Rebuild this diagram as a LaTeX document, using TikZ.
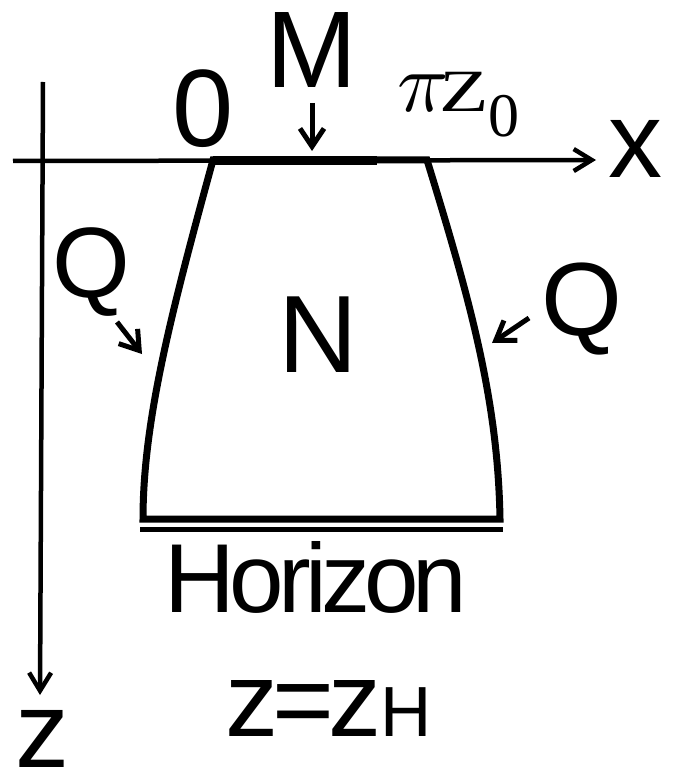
\documentclass[tikz,border=0pt]{standalone}
\usepackage{fontspec}
\usepackage{graphicx}
\setmainfont{Liberation Sans}
\newfontfamily\tightsans[LetterSpace=-6]{Liberation Sans}
\newfontfamily\serifR{Liberation Serif}
\usetikzlibrary{arrows.meta}
\newcommand{\fsz}[1]{\fontsize{#1}{#1}\selectfont}
\begin{document}
\begin{tikzpicture}[x=1pt,y=-1pt,
  lbl/.style={inner sep=0pt, anchor=base, font=\fsz{108}},
  axisline/.style={line width=4.5pt, -{Straight Barb[length=18pt,width=22pt]}},
  wall/.style={line width=7pt, line join=miter},
  force/.style={line width=5pt, -{Straight Barb[length=18pt,width=24pt]}}]
\useasboundingbox (0,0) rectangle (672,778);

% axes
\coordinate (xs) at (13,161);
\coordinate (xe) at (596,160);
\coordinate (zs) at (43,82);
\coordinate (ze) at (40,695);
\draw[axisline] (xs) -- (xe);
\draw[axisline] (zs) -- (ze);

% region
\draw[wall] (213,160) .. controls (172,310) and (143,420) .. (143,519)
  -- (500,519) .. controls (498,400) and (470,300) .. (427,160) -- cycle;
\draw[line width=9pt] (213,161) -- (377,161);
\draw[line width=5.5pt] (140,529.5) -- (503,529.5);

% labels
\node[lbl, font=\fsz{110}] (zero) at (203,147) {0};
\node[lbl, font=\fsz{109}] (M) at (312,88) {M};
\node[lbl, font=\fsz{110}] (N) at (318,372) {N};
\node[lbl, font=\fsz{100}] (QL) at (91,297) {Q};
\node[lbl, font=\fsz{104}] (QR) at (582,335) {Q};
\node[lbl] (xl) at (635,178) {x};
\node[lbl] (zl) at (42,767) {z};
\node[lbl, font=\tightsans\fsz{98}] (hor) at (316,612) {Horizon};
\node[lbl, font=\tightsans\fsz{106}] (zh) at (329,736) {z=z{\fsz{71}H}};
\node[inner sep=0pt, anchor=base west] (pi) at (397,112) {\scalebox{8.5}{$\pi$}};
\node[inner sep=0pt, anchor=base west, font=\serifR\fsz{60}] (Zs) at (439,112) {\scalebox{1.35}[1]{Z}};
\node[inner sep=0pt, anchor=base, font=\serifR\fsz{62}] (sub0) at (504,137) {0};

% arrows
\coordinate (mA) at (312,103);
\coordinate (mB) at (312,151);
\draw[force] (mA) -- (mB);
\coordinate (qlA) at (117,322);
\coordinate (qlB) at (142,354);
\draw[force] (qlA) -- (qlB);
\coordinate (qrA) at (529,318);
\coordinate (qrB) at (492,343);
\draw[force] (qrA) -- (qrB);
\end{tikzpicture}
\end{document}
